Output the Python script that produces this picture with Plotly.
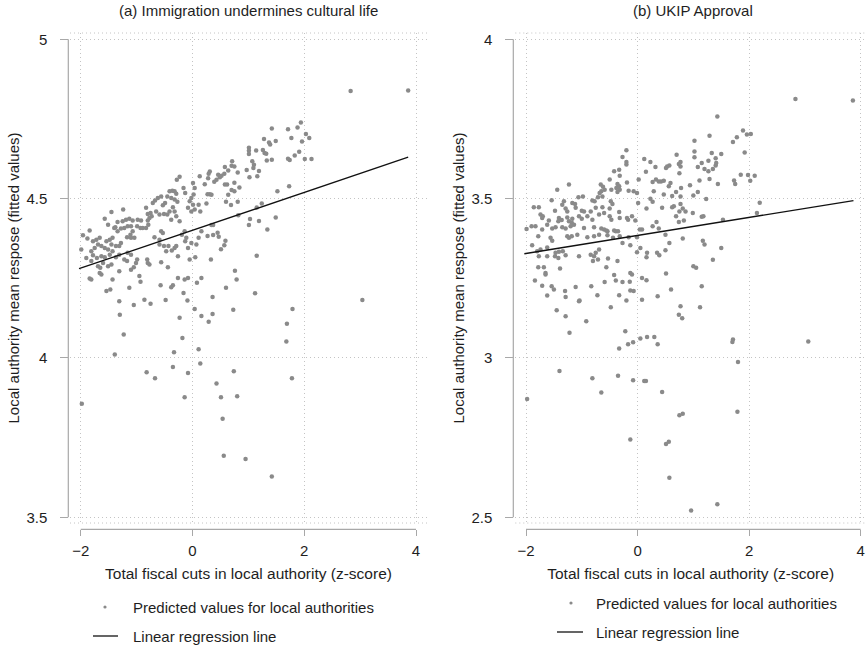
import plotly.graph_objects as go

# ---------------- data ----------------
left_x = [2.83,3.86,1.94,1.88,1.71,1.42,2.03,2.09,1.77,1.28,1.37,1.39,1.49,1.96,1.01,1.01,1.01,1.14,1.26,1.29,1.32,1.91,1.83,1.74,1.71,2.01,2.13,1.33,1.42,1.07,1.10,0.71,0.70,0.75,0.58,0.64,1.09,1.19,0.97,0.81,1.16,1.02,0.31,0.29,0.13,0.28,0.46,0.49,0.52,0.57,0.43,-0.23,-0.28,
          0.39,0.22,0.58,0.62,0.75,0.84,0.70,0.75,0.64,0.31,0.27,0.34,1.52,1.73,0.25,0.60,0.81,0.69,1.24,1.15,0.82,1.03,1.01,1.19,1.49,1.34,0.34,0.37,0.27,0.37,0.45,0.47,0.59,0.57,0.51,1.15,0.33,
          0.01,0.04,0.02,-0.16,-0.13,-0.36,-0.32,-0.29,-0.41,-0.45,-0.38,-0.32,-0.27,-0.56,-0.62,-0.67,-0.71,-0.49,-0.53,-0.02,-0.05,0.01,-0.08,-0.02,0.04,0.11,0.14,-0.83,-0.80,-0.75,-0.73,-0.65,-0.59,-0.51,-0.45,-0.41,-0.35,-0.32,-0.29,-0.38,-0.23,-1.45,-1.24,-1.57,-1.51,-1.40,-1.34,-1.25,-1.19,-1.13,-1.07,-0.98,-0.92,-0.99,-0.93,-0.89,-0.83,-0.79,-0.77,-0.80,-1.38,-1.34,-1.28,-1.22,-1.16,-1.10,-1.07,-1.11,-1.17,-1.10,-1.04,-1.84,-1.96,-1.88,-1.78,-1.72,-1.66,-1.69,-1.63,-1.54,-1.48,-1.43,-1.45,-1.37,-1.31,-1.28,-1.57,-1.51,-1.43,-1.75,-1.81,-1.78,-1.71,-1.63,-1.57,-1.48,-1.81,-1.90,-1.99,-0.68,-0.59,-0.56,-0.53,-0.59,-0.51,-0.43,-0.37,-0.32,-0.29,-0.26,-0.13,-0.11,-0.19,-0.14,-0.08,-0.02,0.07,0.11,0.16,-1.10,-1.16,-1.17,-1.22,-1.31,-1.37,-1.45,-1.51,-1.60,-1.65,-1.69,-1.63,-1.66,-0.99,-1.01,-1.05,-1.10,-1.31,-1.43,-1.47,-1.54,-1.81,-1.84,-0.81,-0.80,-0.77,-0.56,-0.44,-0.47,-0.95,-0.93,-1.13,-0.57,-0.35,-0.38,-0.26,-0.14,-0.08,-0.05,0.05,0.08,0.16,-0.16,-0.86,-1.31,
          3.04,0.76,0.79,0.60,0.36,1.12,0.73,1.79,1.69,0.29,0.36,0.16,0.04,-0.09,-0.48,-0.75,-1.05,-1.30,-0.23,
          -1.23,-0.18,1.68,0.11,-1.39,-0.33,0.14,-0.82,-0.67,-0.35,-0.08,0.74,1.78,0.43,0.51,0.80,-0.14,-1.98,0.54,0.56,0.95,1.42]
left_y = [4.838,4.839,4.739,4.723,4.718,4.720,4.703,4.690,4.690,4.687,4.676,4.670,4.681,4.679,4.660,4.650,4.640,4.651,4.653,4.643,4.641,4.647,4.635,4.621,4.625,4.624,4.624,4.620,4.622,4.617,4.606,4.617,4.603,4.601,4.599,4.588,4.596,4.587,4.590,4.582,4.570,4.567,4.585,4.578,4.570,4.564,4.575,4.567,4.572,4.578,4.559,4.569,4.559,
          4.553,4.545,4.544,4.544,4.550,4.535,4.527,4.523,4.512,4.514,4.514,4.512,4.523,4.539,4.485,4.490,4.490,4.480,4.485,4.472,4.448,4.436,4.417,4.430,4.441,4.403,4.417,4.417,4.383,4.386,4.393,4.380,4.368,4.354,4.341,4.321,4.309,
          4.549,4.533,4.513,4.533,4.518,4.525,4.523,4.515,4.523,4.507,4.502,4.497,4.490,4.507,4.502,4.494,4.486,4.486,4.479,4.502,4.492,4.481,4.471,4.460,4.466,4.481,4.460,4.471,4.452,4.455,4.445,4.460,4.450,4.452,4.450,4.460,4.473,4.460,4.445,4.434,4.429,4.458,4.466,4.437,4.418,4.408,4.427,4.429,4.434,4.437,4.431,4.434,4.431,4.413,4.408,4.408,4.408,4.418,4.439,4.431,4.410,4.398,4.406,4.408,4.413,4.413,4.398,4.387,4.379,4.377,4.377,4.400,4.385,4.375,4.366,4.371,4.377,4.356,4.351,4.366,4.371,4.377,4.356,4.351,4.351,4.361,4.345,4.340,4.335,4.345,4.335,4.322,4.314,4.319,4.316,4.324,4.304,4.314,4.340,4.379,4.371,4.398,4.392,4.356,4.351,4.351,4.337,4.345,4.351,4.319,4.366,4.377,4.387,4.398,4.345,4.361,4.356,4.377,4.398,4.324,4.330,4.304,4.309,4.324,4.316,4.293,4.288,4.298,4.283,4.288,4.262,4.267,4.309,4.298,4.285,4.277,4.272,4.246,4.215,4.210,4.246,4.249,4.309,4.298,4.293,4.300,4.285,4.335,4.257,4.239,4.220,4.228,4.228,4.222,4.251,4.246,4.251,4.309,4.316,4.236,4.251,4.204,4.183,4.178,
          4.182,4.274,4.246,4.220,4.191,4.203,4.151,4.154,4.107,4.114,4.138,4.132,4.154,4.180,4.182,4.170,4.166,4.136,4.126,
          4.074,4.063,4.052,4.027,4.011,4.018,3.983,3.955,3.936,3.972,3.953,3.958,3.936,3.920,3.877,3.880,3.877,3.856,3.809,3.693,3.683,3.628]

right_x = [2.83,3.86,1.43,
           1.89,1.78,1.96,2.03,1.29,1.71,1.02,1.02,1.02,1.33,1.50,1.40,1.27,1.41,1.40,1.35,1.27,1.20,1.15,1.08,0.70,0.77,0.74,0.77,0.75,0.57,0.53,0.51,0.32,0.23,0.12,0.15,1.92,1.85,1.98,2.10,2.02,1.73,1.75,1.44,1.29,1.11,0.59,0.56,0.27,0.33,0.38,0.42,0.47,0.94,0.78,0.69,1.00,1.08,0.62,0.47,0.29,0.77,0.23,0.27,1.23,2.19,2.14,0.16,0.44,0.62,0.65,0.77,0.81,0.86,0.75,0.99,0.69,0.83,0.74,1.15,1.18,1.53,0.34,0.27,0.38,0.08,0.50,0.57,0.81,1.17,1.20,1.50,0.50,0.35,0.39,0.17,0.16,0.05,1.35,1.00,1.05,0.51,0.08,0.16,
           -0.20,-0.27,-0.20,-0.20,-0.33,-0.42,-0.32,-0.50,-0.19,-0.36,-0.33,-0.38,-0.32,-0.36,-0.66,-0.62,-0.59,-0.65,-0.68,-0.63,-0.71,-0.47,-0.16,-0.07,-0.01,0.02,-1.23,-1.44,-1.06,-0.98,-0.81,-0.77,-0.48,-0.45,-0.50,0.01,-1.54,-1.32,-1.35,-1.17,-1.12,-1.86,-1.77,-1.48,-1.29,-1.26,-1.11,-1.00,-0.96,-0.84,-0.75,-0.63,-0.60,-1.74,-1.70,-1.71,-1.41,-1.36,-1.26,-1.17,-1.23,-1.42,-1.62,-1.59,-1.05,-1.00,-0.90,-0.81,-0.69,-0.50,-0.47,-0.33,-0.32,-0.19,-0.17,-0.10,-0.04,-1.18,-1.14,-1.20,-1.35,-1.47,-1.99,-1.90,-1.83,-1.71,-1.53,-1.29,-0.96,-0.78,-0.65,-0.60,-0.56,-0.54,-0.42,-0.39,-0.35,-1.78,-1.56,-1.53,-1.26,-1.23,-1.18,-1.08,-0.90,-0.78,-0.69,-0.54,-0.44,-0.32,-0.16,-0.01,0.04,-0.27,-0.13,-1.89,-1.80,-1.74,-1.62,-1.47,-1.41,-1.34,-1.48,-1.42,-1.62,-1.77,-1.29,-1.05,-0.84,-0.69,-0.75,-0.78,-0.80,-0.53,-0.71,-0.36,-0.01,-1.78,-1.65,-1.65,-1.68,-1.39,-0.56,-1.84,-0.13,-0.10,-0.42,-0.39,-0.27,-0.14,-0.59,-0.83,-1.11,-1.54,-1.71,-1.50,-1.30,-1.62,-1.29,-0.72,-0.33,-0.13,-0.07,-1.04,
           0.60,1.15,0.36,0.08,-0.20,-0.48,0.77,0.74,0.80,1.12,-0.92,-1.29,-1.45,-1.22,-0.22,-1.05,
           -0.33,-0.17,-0.08,0.05,0.17,0.30,0.36,1.70,1.71,3.06,1.80,-1.40,-0.81,-0.35,-0.08,0.12,0.15,-0.65,0.44,-1.98,0.75,0.81,1.79,-0.13,0.51,0.56,0.57,1.43,0.96]
right_y = [3.813,3.808,3.758,
           3.714,3.693,3.701,3.703,3.697,3.678,3.682,3.648,3.630,3.643,3.640,3.627,3.619,3.612,3.604,3.593,3.586,3.593,3.612,3.599,3.638,3.615,3.609,3.601,3.580,3.604,3.601,3.596,3.599,3.615,3.624,3.584,3.645,3.575,3.574,3.572,3.556,3.557,3.546,3.546,3.562,3.557,3.549,3.539,3.552,3.560,3.554,3.554,3.556,3.542,3.533,3.521,3.510,3.521,3.508,3.513,3.523,3.507,3.500,3.490,3.499,3.487,3.455,3.469,3.471,3.473,3.476,3.483,3.469,3.460,3.460,3.455,3.445,3.431,3.427,3.443,3.445,3.434,3.427,3.413,3.406,3.403,3.387,3.361,3.375,3.368,3.356,3.345,3.338,3.330,3.322,3.330,3.316,3.345,3.308,3.288,3.283,3.265,3.251,3.244,
           3.652,3.631,3.615,3.607,3.591,3.586,3.572,3.560,3.551,3.546,3.539,3.533,3.528,3.521,3.544,3.537,3.528,3.523,3.518,3.507,3.504,3.528,3.525,3.523,3.518,3.560,3.544,3.528,3.504,3.507,3.494,3.492,3.492,3.483,3.469,3.486,3.495,3.492,3.481,3.486,3.483,3.473,3.473,3.462,3.469,3.460,3.471,3.462,3.460,3.460,3.471,3.473,3.455,3.450,3.445,3.439,3.439,3.433,3.441,3.437,3.429,3.429,3.418,3.431,3.445,3.437,3.445,3.434,3.450,3.445,3.434,3.458,3.439,3.439,3.434,3.445,3.431,3.424,3.418,3.413,3.410,3.410,3.405,3.413,3.413,3.403,3.406,3.406,3.408,3.410,3.406,3.403,3.400,3.398,3.400,3.398,3.398,3.382,3.377,3.368,3.382,3.377,3.382,3.387,3.379,3.382,3.387,3.385,3.377,3.382,3.379,3.379,3.403,3.361,3.354,3.354,3.335,3.340,3.347,3.330,3.333,3.335,3.319,3.314,3.319,3.319,3.322,3.319,3.324,3.340,3.330,3.319,3.304,3.312,3.309,3.304,3.332,3.285,3.267,3.262,3.285,3.281,3.285,3.243,3.267,3.262,3.260,3.243,3.238,3.239,3.238,3.225,3.223,3.225,3.227,3.215,3.210,3.196,3.191,3.197,3.197,3.212,3.210,3.180,
           3.215,3.225,3.194,3.183,3.180,3.159,3.162,3.136,3.125,3.159,3.115,3.131,3.150,3.079,3.084,3.178,
           3.030,3.043,3.049,3.061,3.066,3.066,3.043,3.050,3.058,3.052,2.987,2.959,2.936,2.944,2.930,2.928,2.928,2.892,2.893,2.871,2.820,2.825,2.831,2.744,2.730,2.737,2.624,2.541,2.521]

# regression line end points
left_line_x = [-2.03, 3.86]
left_line_y = [4.280, 4.630]
right_line_x = [-2.03, 3.87]
right_line_y = [3.327, 3.494]

x_ticks = [-2, 0, 2, 4]
left_y_ticks = [3.5, 4, 4.5, 5]
right_y_ticks = [2.5, 3, 3.5, 4]

panel_titles = ["(a) Immigration undermines cultural life", "(b) UKIP Approval"]
x_title = "Total fiscal cuts in local authority (z-score)"
y_title = "Local authority mean respose (fitted values)"
scatter_name = "Predicted values for local authorities"
line_name = "Linear regression line"

# ---------------- layout helpers ----------------
W, H = 866, 647
FONT = "Liberation Sans, Arial, Helvetica, sans-serif"
PT_COLOR = "#8a8a8a"
LINE_COLOR = "#111111"
AX_COLOR = "#a8a8a8"
GRID_COLOR = "#c4c4c4"
GRID_DASH = "1px,3px"
TXT = "#1e1e1e"

def px(v):
    return v / W

def py(v):
    return 1 - v / H

# pixel geometry of the two panels (x=-2..4 mapped, y min..max mapped)
L_X0, L_X4 = 80.7, 416.0
R_X0, R_X4 = 526.0, 860.7
Y_TOP, Y_BOT = 39.3, 517.3
REG_TOP, REG_BOT = 33.0, 523.0
L_REG = (70.0, 427.0)
R_REG = (515.3, 866.0)
X_AXIS_Y = 529.3

def xrange(x0, x4, reg):
    k = 6.0 / (x4 - x0)
    return [-2 - (x0 - reg[0]) * k, 4 + (reg[1] - x4) * k]

def yrange(lo, hi):
    k = (hi - lo) / (Y_BOT - Y_TOP)
    return [lo - (REG_BOT - Y_BOT) * k, hi + (Y_TOP - REG_TOP) * k]

fig = go.Figure()

fig.add_trace(go.Scatter(x=left_x, y=left_y, mode="markers", xaxis="x", yaxis="y",
                         marker=dict(size=4.5, color=PT_COLOR), name=scatter_name))
fig.add_trace(go.Scatter(x=left_line_x, y=left_line_y, mode="lines", xaxis="x", yaxis="y",
                         line=dict(color=LINE_COLOR, width=1.3), name=line_name))
fig.add_trace(go.Scatter(x=right_x, y=right_y, mode="markers", xaxis="x2", yaxis="y2",
                         marker=dict(size=4.5, color=PT_COLOR), name=scatter_name))
fig.add_trace(go.Scatter(x=right_line_x, y=right_line_y, mode="lines", xaxis="x2", yaxis="y2",
                         line=dict(color=LINE_COLOR, width=1.3), name=line_name))

common_x = dict(anchor="free", position=py(X_AXIS_Y), tickvals=x_ticks, ticks="outside", ticklen=6,
                tickcolor=AX_COLOR, tickfont=dict(size=15, color=TXT, family=FONT),
                ticklabelstandoff=2, automargin=False,
                showline=False, zeroline=False, showgrid=True, gridcolor=GRID_COLOR,
                griddash=GRID_DASH, gridwidth=1,
                title=dict(text=x_title, font=dict(size=15.5, color=TXT, family=FONT), standoff=9))
common_y = dict(anchor="free", ticks="outside", ticklen=8, tickcolor=AX_COLOR,
                tickfont=dict(size=15, color=TXT, family=FONT),
                ticklabelstandoff=10, automargin=False,
                showline=False, zeroline=False, showgrid=True, gridcolor=GRID_COLOR,
                griddash=GRID_DASH, gridwidth=1,
                domain=[py(REG_BOT), py(REG_TOP)],
                title=dict(text=y_title, font=dict(size=15, color=TXT, family=FONT), standoff=2))

fig.update_layout(
    width=W, height=H, margin=dict(l=0, r=0, t=0, b=0),
    paper_bgcolor="white", plot_bgcolor="white",
    font=dict(family=FONT, size=15, color=TXT),
    showlegend=False,
    xaxis=dict(common_x, domain=[px(L_REG[0]), px(L_REG[1])], range=xrange(L_X0, L_X4, L_REG)),
    yaxis=dict(common_y, position=px(68.3), tickvals=left_y_ticks,
               ticktext=[str(v) for v in left_y_ticks], range=yrange(3.5, 5)),
    xaxis2=dict(common_x, domain=[px(R_REG[0]), px(R_REG[1])], range=xrange(R_X0, R_X4, R_REG)),
    yaxis2=dict(common_y, position=px(513.3), tickvals=right_y_ticks,
                ticktext=[str(v) for v in right_y_ticks], range=yrange(2.5, 4)),
)

# panel titles
for title, cx in zip(panel_titles, [(L_X0 + L_X4) / 2, (R_X0 + R_X4) / 2]):
    fig.add_annotation(text=title, x=px(cx), y=py(11), xref="paper", yref="paper",
                       xanchor="center", yanchor="middle", showarrow=False,
                       font=dict(size=15, color=TXT, family=FONT))

shapes = []
# Stata style axis lines spanning only the labelled range
for xa, ya, xpos, lo, hi in [("x", "y", 68.3, 3.5, 5), ("x2", "y2", 513.3, 2.5, 4)]:
    shapes.append(dict(type="line", xref="paper", yref=ya, x0=px(xpos), x1=px(xpos), y0=lo, y1=hi,
                       line=dict(color=AX_COLOR, width=1.2)))
    shapes.append(dict(type="line", xref=xa, yref="paper", x0=-2, x1=4, y0=py(X_AXIS_Y), y1=py(X_AXIS_Y),
                       line=dict(color=AX_COLOR, width=1.2)))
# dotted plot-region borders (top / bottom)
for reg in [L_REG, R_REG]:
    for yy in [REG_TOP, REG_BOT]:
        shapes.append(dict(type="line", xref="paper", yref="paper", x0=px(reg[0]), x1=px(reg[1]),
                           y0=py(yy), y1=py(yy), line=dict(color=GRID_COLOR, width=1, dash=GRID_DASH)))

# legends below each panel (key symbol + label)
# (dot_x, dot_y, line_x0, line_x1, line_y, text_x)
legend_geo = [(105, 607, 93, 118, 636, 131), (571, 603, 557, 583, 632, 594)]
for dx, dy, lx0, lx1, ly, tx in legend_geo:
    r = 1.6
    shapes.append(dict(type="circle", xref="paper", yref="paper",
                       x0=px(dx - r), x1=px(dx + r), y0=py(dy + r), y1=py(dy - r),
                       fillcolor=PT_COLOR, line=dict(width=0)))
    shapes.append(dict(type="line", xref="paper", yref="paper", x0=px(lx0), x1=px(lx1),
                       y0=py(ly), y1=py(ly), line=dict(color=LINE_COLOR, width=1.3)))
    fig.add_annotation(text=scatter_name, x=px(tx), y=py(dy), xref="paper", yref="paper",
                       xanchor="left", yanchor="middle", showarrow=False,
                       font=dict(size=15, color=TXT, family=FONT))
    fig.add_annotation(text=line_name, x=px(tx), y=py(ly), xref="paper", yref="paper",
                       xanchor="left", yanchor="middle", showarrow=False,
                       font=dict(size=15, color=TXT, family=FONT))
fig.update_layout(shapes=shapes)

fig.write_html("out.html", config={"displayModeBar": False},
               post_script="document.body.style.margin='0px';")
